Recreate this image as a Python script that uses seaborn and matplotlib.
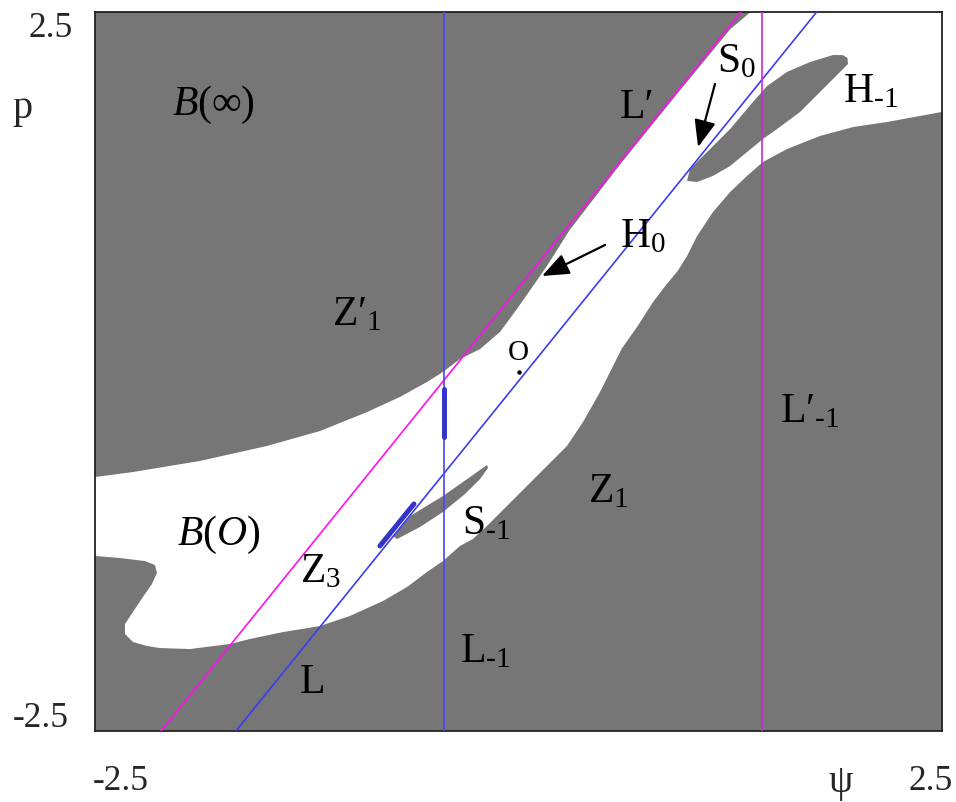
import matplotlib
matplotlib.use("Agg")
import matplotlib.pyplot as plt
import pandas as pd
import seaborn as sns

# ---- basin of O, B(O): upper-left edge, from the left border up to the top border ----
bo_upper_psi = [-2.500, -2.276, -1.880, -1.485, -1.172, -0.894, -0.700, -0.540, -0.446,
                -0.345, -0.227, -0.109, -0.009, 0.086, 0.168, 0.300, 0.600, 0.950, 1.250, 1.370]
bo_upper_p = [-0.734, -0.699, -0.622, -0.518, -0.414, -0.282, -0.177, -0.073, -0.003,
              0.087, 0.156, 0.275, 0.435, 0.595, 0.734, 0.980, 1.440, 1.950, 2.380, 2.500]

# ---- B(O): right and lower edge, from the right border back to the left border ----
bo_lower_psi = [2.500, 2.370, 2.175, 1.975, 1.780, 1.585, 1.443, 1.349, 1.249, 1.148, 1.054,
                0.995, 0.940, 0.870, 0.794, 0.700, 0.610, 0.481, 0.381, 0.286, 0.168, 0.050,
                -0.068, -0.186, -0.269, -0.345, -0.446, -0.540, -0.658, -0.800, -0.995,
                -1.172, -1.390, -1.585, -1.703, -1.939, -2.116, -2.193, -2.276, -2.323,
                -2.323, -2.276, -2.217, -2.164, -2.134, -2.146, -2.205, -2.352, -2.500]
bo_lower_p = [1.805, 1.777, 1.735, 1.700, 1.638, 1.547, 1.457, 1.360, 1.248, 1.109, 0.942,
              0.803, 0.700, 0.600, 0.483, 0.310, 0.160, -0.143, -0.351, -0.518, -0.657, -0.796,
              -0.935, -1.074, -1.165, -1.213, -1.318, -1.394, -1.499, -1.596, -1.700,
              -1.770, -1.812, -1.860, -1.895, -1.930, -1.923, -1.909, -1.881, -1.825,
              -1.756, -1.672, -1.568, -1.478, -1.401, -1.346, -1.318, -1.297, -1.283]

# ---- island H_-1 of B(inf) ----
h1_psi = [0.995, 1.012, 1.113, 1.249, 1.384, 1.467, 1.585, 1.721, 1.857, 1.915, 1.942, 1.945,
          1.898, 1.780, 1.662, 1.526, 1.443, 1.349, 1.249, 1.148, 1.054]
h1_p = [1.325, 1.408, 1.526, 1.686, 1.874, 1.985, 2.083, 2.152, 2.201, 2.200, 2.180, 2.138,
        2.083, 1.944, 1.805, 1.686, 1.617, 1.526, 1.429, 1.360, 1.318]

# ---- island S_-1 of B(inf) ----
s1_psi = [-0.186, -0.286, -0.446, -0.640, -0.741, -0.717, -0.581, -0.446, -0.316, -0.227, -0.180]
s1_p = [-0.650, -0.734, -0.866, -1.005, -1.144, -1.165, -1.081, -0.977, -0.852, -0.748, -0.671]

# ---- critical lines (end points) ----
line_names = ["L", "L'", "L_-1", "L'_-1"]
line_psi = [[-1.668, 1.760], [-2.110, 1.313], [-0.440, -0.440], [1.440, 1.440]]
line_p = [[-2.5, 2.5], [-2.5, 2.5], [-2.5, 2.5], [-2.5, 2.5]]
line_colors = {"L": "#3c3cf0", "L'": "#ff10f0", "L_-1": "#4646ff", "L'_-1": "#d024d8"}

# ---- thick segments on L_-1 and L ----
seg_psi = [[-0.440, -0.440], [-0.818, -0.617]]
seg_p = [[-0.122, -0.455], [-1.213, -0.921]]

# fixed point O
o_psi, o_p = [0.0], [0.0]

GRAY = "#767676"

sns.set_theme(style="white")
plt.rcParams["font.family"] = ["Liberation Serif", "DejaVu Serif"]
plt.rcParams["mathtext.fontset"] = "custom"
plt.rcParams["mathtext.rm"] = "Liberation Serif"
plt.rcParams["mathtext.it"] = "Liberation Serif:italic"
plt.rcParams["mathtext.bf"] = "Liberation Serif:bold"

fig = plt.figure(figsize=(9.56, 8.03), dpi=100)
ax = fig.add_axes([95 / 956, 1 - 732 / 803, 847 / 956, 719 / 803])
ax.set_facecolor(GRAY)
ax.set_xlim(-2.5, 2.5)
ax.set_ylim(-2.5, 2.5)

# basin of O (white) and the B(inf) islands inside it
bo_psi = bo_upper_psi + [2.5] + bo_lower_psi
bo_p = bo_upper_p + [2.5] + bo_lower_p
ax.fill(bo_psi, bo_p, color="white", lw=0, zorder=1)
ax.fill(h1_psi, h1_p, color=GRAY, lw=0, zorder=2)
ax.fill(s1_psi, s1_p, color=GRAY, lw=0, zorder=2)

# critical lines
rows = []
for name, xs, ys in zip(line_names, line_psi, line_p):
    for x, y in zip(xs, ys):
        rows.append({"psi": x, "p": y, "line": name})
df_lines = pd.DataFrame(rows)
sns.lineplot(data=df_lines, x="psi", y="p", hue="line", units="line", estimator=None,
             sort=False, palette=line_colors, legend=False, linewidth=1.2, ax=ax, zorder=3)

seg_rows = []
for i, (xs, ys) in enumerate(zip(seg_psi, seg_p)):
    for x, y in zip(xs, ys):
        seg_rows.append({"psi": x, "p": y, "seg": i})
sns.lineplot(data=pd.DataFrame(seg_rows), x="psi", y="p", units="seg", estimator=None,
             sort=False, color="#3434c8", linewidth=3.6, ax=ax, zorder=4,
             solid_capstyle="round")

ax.plot(o_psi, o_p, marker="o", ms=2.2, color="black", ls="none", zorder=5)

# arrows pointing at S_0 and H_0
arrow_kw = dict(arrowstyle="-|>,head_length=0.55,head_width=0.22", color="black", lw=1.6,
                mutation_scale=30, shrinkA=0, shrinkB=0)
ax.annotate("", xy=(1.06, 1.561), xytext=(1.160, 2.00), arrowprops=arrow_kw, zorder=6)
ax.annotate("", xy=(0.139, 0.664), xytext=(0.511, 0.880), arrowprops=arrow_kw, zorder=6)

# region and curve labels
FS = 30
labels = [
    (-2.045, 1.791, r"$B(\infty)$", FS),
    (0.599, 1.770, "L′", FS),
    (1.172, 2.090, r"$\mathrm{S}_{0}$", FS),
    (1.916, 1.881, r"$\mathrm{H}_{\text{-1}}$", FS),
    (0.599, 0.873, r"$\mathrm{H}_{0}$", FS),
    (-1.101, 0.330, r"$\text{Z′}_{1}$", FS),
    (-0.062, 0.087, "O", 21),
    (1.544, -0.344, r"$\text{L′}_{\text{-1}}$", FS),
    (0.410, -0.901, r"$\mathrm{Z}_{1}$", FS),
    (-0.334, -1.123, r"$\mathrm{S}_{\text{-1}}$", FS),
    (-2.016, -1.200, r"$B(O)$", FS),
    (-1.290, -1.457, r"$\mathrm{Z}_{3}$", FS),
    (-1.290, -2.229, "L", FS),
    (-0.345, -2.013, r"$\mathrm{L}_{\text{-1}}$", FS),
]
for x, y, s, fs in labels:
    ax.text(x, y, s, fontsize=fs, ha="left", va="baseline", color="black", zorder=7)

ax.set_xticks([])
ax.set_yticks([])
ax.set_xlabel("")
ax.set_ylabel("")
for sp in ax.spines.values():
    sp.set_visible(True)
    sp.set_color("#222222")
    sp.set_linewidth(1.3)

# axis ranges and names
TFS = 25.5
fig.text(28 / 956, 1 - 37 / 803, "2.5", fontsize=TFS, ha="left", va="baseline")
fig.text(13 / 956, 1 - 727 / 803, "-2.5", fontsize=TFS, ha="left", va="baseline")
fig.text(93 / 956, 1 - 790 / 803, "-2.5", fontsize=TFS, ha="left", va="baseline")
fig.text(908 / 956, 1 - 790 / 803, "2.5", fontsize=TFS, ha="left", va="baseline")
fig.text(12 / 956, 1 - 118 / 803, "p", fontsize=29, ha="left", va="baseline")
fig.text(841 / 956, 1 - 783 / 803, "ψ", fontsize=28, ha="center", va="center")

fig.savefig("out.png", dpi=100, facecolor="white")
